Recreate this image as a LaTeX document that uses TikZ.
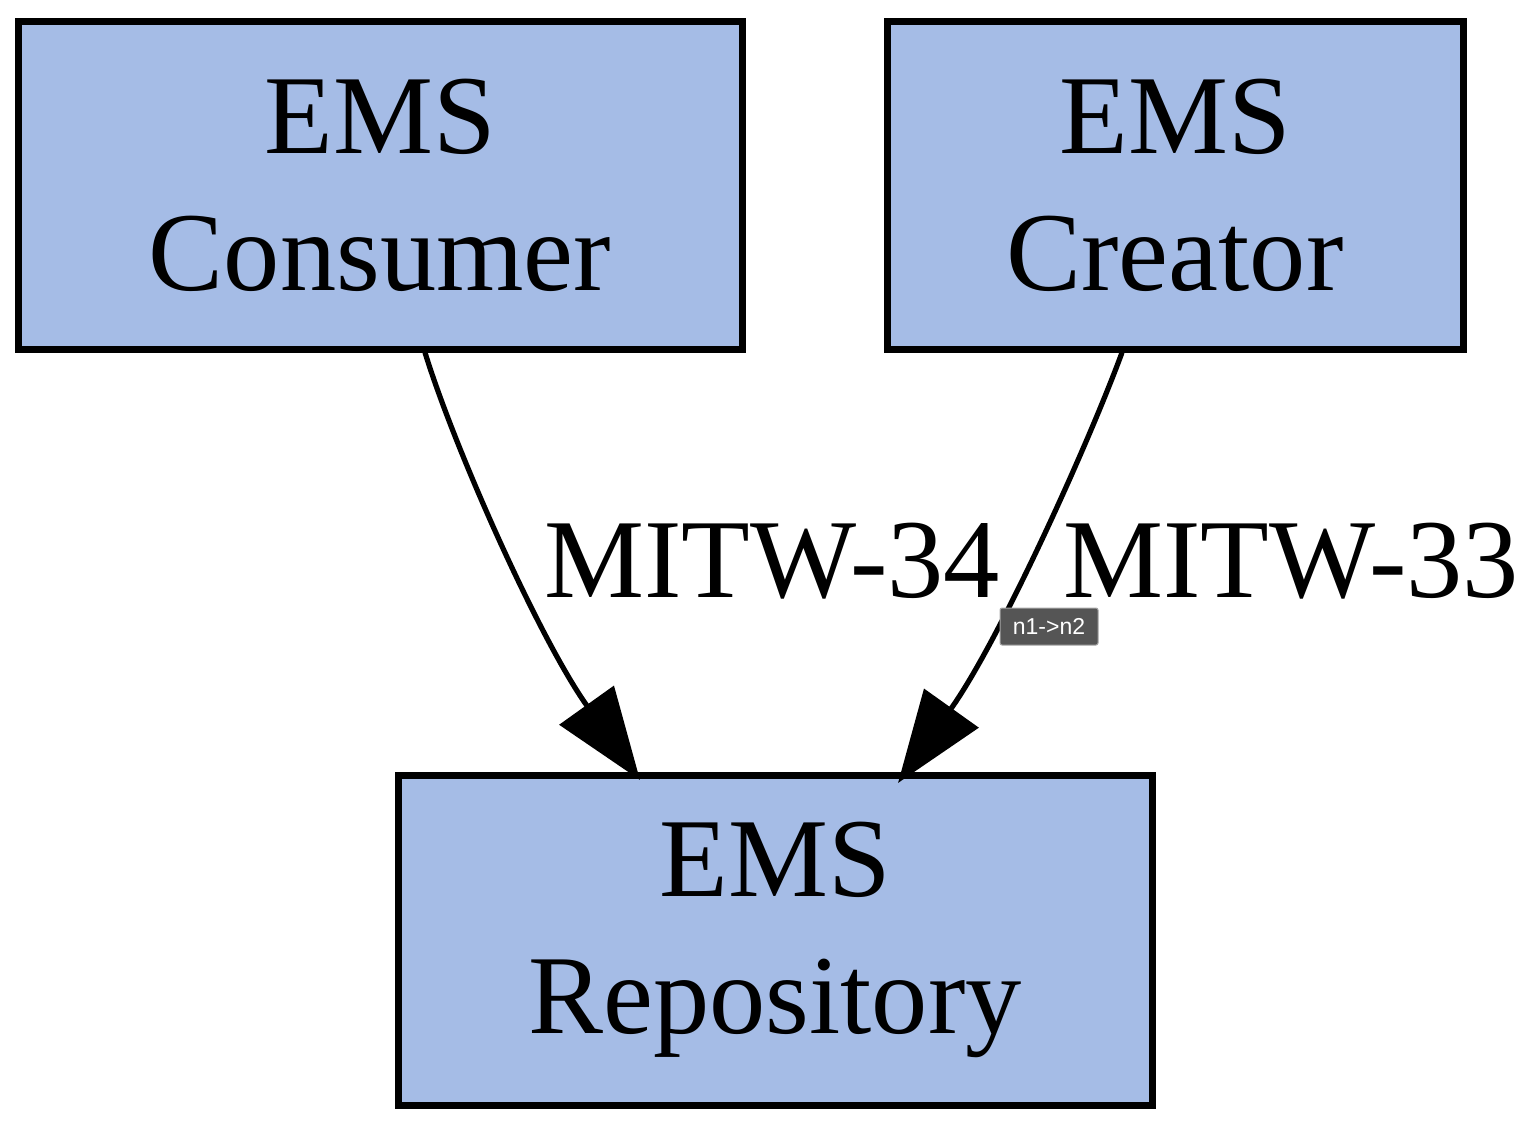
\documentclass[tikz,border=0pt]{standalone}
\usepackage{fontspec}
\setmainfont{Liberation Serif}
\newfontfamily\tipfont{Liberation Sans}
\usetikzlibrary{arrows.meta}
\definecolor{nodefill}{HTML}{A5BCE6}
\definecolor{tipfill}{HTML}{555555}
\begin{document}
\begin{tikzpicture}[x=0.5pt,y=-0.5pt]
\useasboundingbox (0,0) rectangle (1524,1124);
\tikzset{
  box/.style={draw=black, line width=3.5pt, fill=nodefill, inner sep=0pt, align=center,
    font=\fontsize{56.2}{68.5}\selectfont},
  edgelabel/.style={font=\fontsize{56.2}{68.5}\selectfont, inner sep=0pt, anchor=base, text depth=0pt},
  conn/.style={line width=2.6pt, -{Triangle[length=46pt,width=33pt]}}
}
\node[box, minimum width=362pt, minimum height=164pt] (cons) at (380,185) {EMS\\Consumer};
\node[box, minimum width=288pt, minimum height=164pt] (crea) at (1175,185) {EMS\\Creator};
\node[box, minimum width=377pt, minimum height=165pt] (repo) at (775,940) {EMS\\Repository};
\coordinate (t1) at (640,780);
\coordinate (t2) at (898,783);
\draw[conn] (cons.south -| 425,0) .. controls (455,450) and (540,640) .. (t1);
\draw[conn] (crea.south -| 1122,0) .. controls (1090,440) and (1000,640) .. (t2);
\node[edgelabel] (l1) at (772,597) {MITW-34};
\node[edgelabel] (l2) at (1291,597) {MITW-33};
\node[fill=tipfill, draw=gray!70, line width=0.5pt, rounded corners=1pt, minimum width=49pt, minimum height=18.5pt, inner sep=0pt, text=white, font=\tipfont\fontsize{11.5}{13}\selectfont] (tip) at (1049,626.5) {n1->n2};
\end{tikzpicture}
\end{document}
